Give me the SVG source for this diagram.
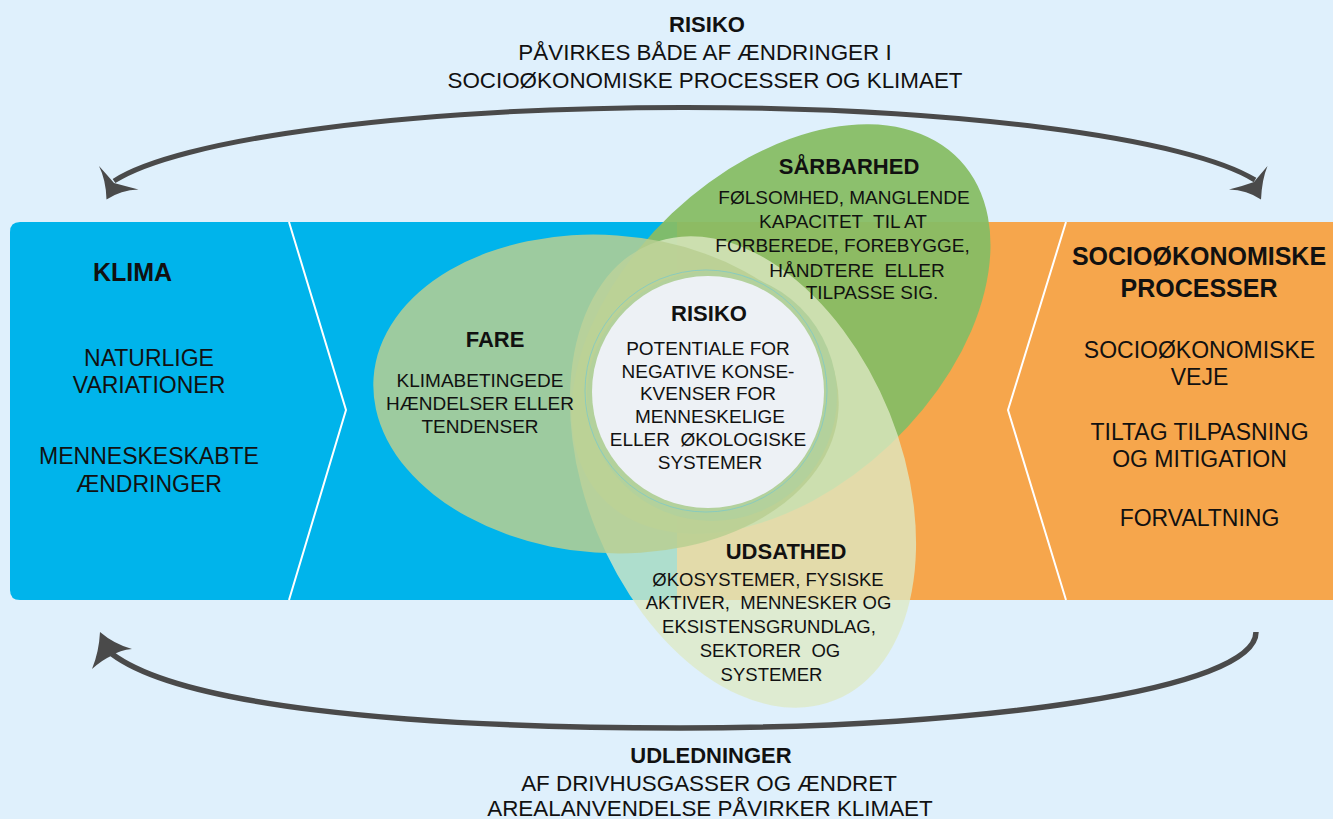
<svg xmlns="http://www.w3.org/2000/svg" width="1333" height="819" viewBox="0 0 1333 819">
<style>
text{font-family:"Liberation Sans",Arial,sans-serif;fill:#111;text-anchor:middle}
.b{font-weight:bold}
.t22{font-size:22px}
.t224{font-size:22.4px}
.t23{font-size:23px}
.t25{font-size:25px}
.s19{font-size:19px}
.s185{font-size:18.5px}
.arc{fill:none;stroke:#4a4a4a;stroke-width:5;stroke-linecap:butt}
.head{fill:#4a4a4a}
.chev{fill:none;stroke:#fff;stroke-width:2}
</style>
<rect width="1333" height="819" fill="#dff0fc"/>
<g id="band">
<path d="M20,222 H677 V600 H20 Q10,600 10,590 V232 Q10,222 20,222 Z" fill="#00b4eb"/>
<rect x="677" y="222" width="656" height="378" fill="#f6a64c"/>
<polyline class="chev" points="289,222 346,410 289,600"/>
<polyline class="chev" points="1066,222 1008,410 1066,600"/>
</g>
<g id="connectors">
<path class="arc" d="M114,181 A590 98 0 0 1 1255,180"/>
<path class="head" d="M106.5,199.5 Q106,180 99,166 Q108,176 114,183 Q125,186 138.5,189.5 Q121,190 106.5,199.5 Z"/>
<path class="head" d="M1261,199.5 Q1262,179 1267.5,166 Q1259,176 1254,182 Q1243,186 1229,189.5 Q1247,190 1261,199.5 Z"/>
<path class="arc" style="stroke-width:5.5" d="M1256,632 C1256,690 980,728 680,728 C400,728 180,705 112,654"/>
<path class="head" d="M100,632 Q99,652 92,669 Q102,660 111,656 Q120,650 132,649 Q114,644 100,632 Z"/>
</g>
<g id="sarbarhed">
<ellipse cx="781" cy="329" rx="246" ry="159" transform="rotate(-43.4 781 329)" fill="rgb(134,188,101)" fill-opacity="0.947"/>
</g>
<g id="udsathed">
<ellipse cx="743" cy="472" rx="246" ry="158" transform="rotate(68 743 472)" fill="rgb(222,233,196)" fill-opacity="0.785"/>
</g>
<g id="fare">
<ellipse cx="606" cy="394" rx="233" ry="159" transform="rotate(4 606 394)" fill="rgb(185,207,146)" fill-opacity="0.85"/>
</g>
<g id="risiko-center">
<circle cx="712" cy="396" r="125" fill="#b3d19c"/>
<circle cx="706" cy="391" r="121" fill="none" stroke="#7ec9c6" stroke-width="0.8"/>
<circle cx="708" cy="392" r="116" fill="#edf1f5"/>
</g>
<g id="top-label">
<text class="b t22" x="707" y="32">RISIKO</text>
<text class="t224" x="705" y="60">PÅVIRKES BÅDE AF ÆNDRINGER I</text>
<text class="t224" x="705" y="88">SOCIOØKONOMISKE PROCESSER OG KLIMAET</text>
</g>
<g id="bottom-label">
<text class="b t22" x="711" y="763">UDLEDNINGER</text>
<text class="t224" x="709" y="790.5">AF DRIVHUSGASSER OG ÆNDRET</text>
<text class="t224" x="710" y="816">AREALANVENDELSE PÅVIRKER KLIMAET</text>
</g>
<g id="klima">
<text class="b t25" x="132.5" y="281">KLIMA</text>
<text class="t23" x="149" y="366">NATURLIGE</text>
<text class="t23" x="149" y="393">VARIATIONER</text>
<text class="t23" x="149" y="464">MENNESKESKABTE</text>
<text class="t23" x="149" y="491.5">ÆNDRINGER</text>
</g>
<g id="socio">
<text class="b t25" x="1199" y="265">SOCIOØKONOMISKE</text>
<text class="b t25" x="1199" y="297">PROCESSER</text>
<text class="t23" x="1199.5" y="358">SOCIOØKONOMISKE</text>
<text class="t23" x="1199.5" y="385">VEJE</text>
<text class="t23" x="1199.5" y="440">TILTAG TILPASNING</text>
<text class="t23" x="1199.5" y="467">OG MITIGATION</text>
<text class="t23" x="1199.5" y="526">FORVALTNING</text>
</g>
<g id="sarbarhed-text">
<text class="b t22" x="849" y="174">SÅRBARHED</text>
<text class="s19" x="844" y="204">FØLSOMHED, MANGLENDE</text>
<text class="s19" x="843" y="227.5" xml:space="preserve">KAPACITET  TIL AT</text>
<text class="s19" x="842.5" y="252">FORBEREDE, FOREBYGGE,</text>
<text class="s19" x="857" y="276.5" xml:space="preserve">HÅNDTERE  ELLER</text>
<text class="s19" x="872" y="299">TILPASSE SIG.</text>
</g>
<g id="fare-text">
<text class="b t22" x="495" y="346.5">FARE</text>
<text class="s19" x="480" y="387">KLIMABETINGEDE</text>
<text class="s19" x="480" y="410">HÆNDELSER ELLER</text>
<text class="s19" x="480" y="433">TENDENSER</text>
</g>
<g id="risiko-text">
<text class="b t22" x="709" y="320.5">RISIKO</text>
<text class="s19" x="708" y="355">POTENTIALE FOR</text>
<text class="s19" x="708" y="377.5">NEGATIVE KONSE-</text>
<text class="s19" x="708" y="400">KVENSER FOR</text>
<text class="s19" x="710" y="423">MENNESKELIGE</text>
<text class="s19" x="708" y="446" xml:space="preserve">ELLER  ØKOLOGISKE</text>
<text class="s19" x="710" y="468.5">SYSTEMER</text>
</g>
<g id="udsathed-text">
<text class="b t22" x="786" y="559">UDSATHED</text>
<text class="s185" x="768" y="585.5">ØKOSYSTEMER, FYSISKE</text>
<text class="s185" x="768.5" y="609" xml:space="preserve">AKTIVER,  MENNESKER OG</text>
<text class="s185" x="769" y="632.5">EKSISTENSGRUNDLAG,</text>
<text class="s185" x="770" y="656.5" xml:space="preserve">SEKTORER  OG</text>
<text class="s185" x="771.5" y="680.5">SYSTEMER</text>
</g>
</svg>
